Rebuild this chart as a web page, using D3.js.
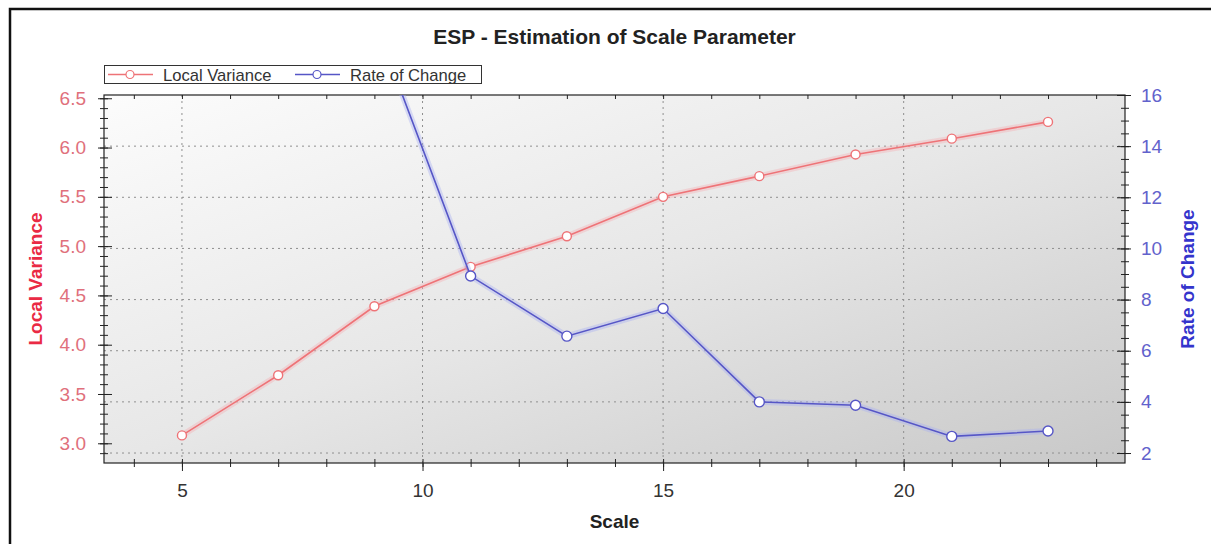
<!DOCTYPE html>
<html>
<head>
<meta charset="utf-8">
<script src="https://cdn.jsdelivr.net/npm/d3@7"></script>
<style>
  body { margin: 0; background: #fff; }
  svg { display: block; font-family: Arial, "Liberation Sans", sans-serif; }
</style>
</head>
<body>
<svg id="chart" width="1211" height="544"></svg>
<script>
// data
const scales = [5, 7, 9, 11, 13, 15, 17, 19, 21, 23];
const localVariance = [3.08, 3.69, 4.39, 4.79, 5.10, 5.50, 5.71, 5.93, 6.09, 6.26];
const rocScales = [9, 11, 13, 15, 17, 19, 21, 23];
const rateOfChange = [18.9, 8.92, 6.57, 7.65, 4.0, 3.87, 2.65, 2.86];

const xTicks = [5, 10, 15, 20];
const leftTicks = [3.0, 3.5, 4.0, 4.5, 5.0, 5.5, 6.0, 6.5];
const rightTicks = [2, 4, 6, 8, 10, 12, 14, 16];
const seriesNames = ["Local Variance", "Rate of Change"];

const redLine = "#ee7377", blueLine = "#5656c6";

const svg = d3.select("#chart");
const plot = { left: 104, right: 1125, top: 95, bottom: 463 };

const x = d3.scaleLinear().domain([3.38, 24.6]).range([plot.left, plot.right]);
const yL = d3.scaleLinear().domain([2.80, 6.533]).range([plot.bottom, plot.top]);
const yR = d3.scaleLinear().domain([1.61, 16]).range([plot.bottom, plot.top]);

// outer frame
svg.append("path")
  .attr("d", `M10,560 L10,9 L1230,9`)
  .attr("fill", "none")
  .attr("stroke", "#111")
  .attr("stroke-width", 2.5);

// background gradient
const defs = svg.append("defs");
const grad = defs.append("linearGradient").attr("id", "bg")
  .attr("x1", 0).attr("y1", 0).attr("x2", 1).attr("y2", 1);
grad.append("stop").attr("offset", 0).attr("stop-color", "#fcfcfc");
grad.append("stop").attr("offset", 0.5).attr("stop-color", "#e7e7e7");
grad.append("stop").attr("offset", 1).attr("stop-color", "#c8c8c8");
defs.append("clipPath").attr("id", "clip").append("rect")
  .attr("x", plot.left).attr("y", plot.top)
  .attr("width", plot.right - plot.left).attr("height", plot.bottom - plot.top);

svg.append("rect")
  .attr("x", plot.left).attr("y", plot.top)
  .attr("width", plot.right - plot.left).attr("height", plot.bottom - plot.top)
  .attr("fill", "url(#bg)");

// grid
const grid = svg.append("g").attr("stroke", "#8f8f8f").attr("stroke-dasharray", "2,4").attr("stroke-width", 1);
grid.selectAll(".gx").data(xTicks).enter().append("line")
  .attr("x1", d => x(d)).attr("x2", d => x(d))
  .attr("y1", plot.top).attr("y2", plot.bottom);
grid.selectAll(".gy").data(rightTicks.slice(0, -1)).enter().append("line")
  .attr("x1", plot.left).attr("x2", plot.right)
  .attr("y1", d => yR(d)).attr("y2", d => yR(d));

// axes helpers
function tickAxis(axisFn, scale, values, size, pos) {
  const g = svg.append("g").attr("transform", pos)
    .call(axisFn(scale).tickValues(values).tickSize(size).tickFormat(""));
  g.select(".domain").remove();
  g.selectAll("line").attr("stroke", "#222");
  return g;
}

const xMinor = d3.range(4, 25, 1);
const lMinor = d3.range(29, 66, 1).map(d => d / 10);
const rMinor = d3.range(2, 16.01, 0.5);

// bottom
tickAxis(d3.axisBottom, x, xMinor, 4, `translate(0,${plot.bottom})`);
tickAxis(d3.axisBottom, x, xMinor, -4, `translate(0,${plot.bottom})`);
tickAxis(d3.axisBottom, x, xTicks, 8, `translate(0,${plot.bottom})`);
// top
tickAxis(d3.axisBottom, x, xMinor, 4, `translate(0,${plot.top})`);
// left
tickAxis(d3.axisLeft, yL, lMinor, 4, `translate(${plot.left},0)`);
tickAxis(d3.axisLeft, yL, lMinor, -4, `translate(${plot.left},0)`);
tickAxis(d3.axisLeft, yL, leftTicks, 6, `translate(${plot.left},0)`);
tickAxis(d3.axisLeft, yL, leftTicks, -8, `translate(${plot.left},0)`);
// right
tickAxis(d3.axisRight, yR, rMinor, 4, `translate(${plot.right},0)`);
tickAxis(d3.axisRight, yR, rMinor, -4, `translate(${plot.right},0)`);
tickAxis(d3.axisRight, yR, rightTicks, 6, `translate(${plot.right},0)`);
tickAxis(d3.axisRight, yR, rightTicks, -8, `translate(${plot.right},0)`);

// frame
svg.append("rect")
  .attr("x", plot.left).attr("y", plot.top)
  .attr("width", plot.right - plot.left).attr("height", plot.bottom - plot.top)
  .attr("fill", "none").attr("stroke", "#222").attr("stroke-width", 1.2);

// tick labels
const xLab = svg.append("g").attr("transform", `translate(0,${plot.bottom})`)
  .call(d3.axisBottom(x).tickValues(xTicks).tickSize(0).tickPadding(21));
xLab.select(".domain").remove();
xLab.selectAll("text").style("font-size", "19px").attr("fill", "#333").attr("font-family", null);

const lLab = svg.append("g").attr("transform", `translate(${plot.left},0)`)
  .call(d3.axisLeft(yL).tickValues(leftTicks).tickSize(0).tickPadding(18).tickFormat(d3.format(".1f")));
lLab.select(".domain").remove();
lLab.selectAll("text").style("font-size", "19px").attr("fill", "#e0707c").attr("font-family", null);

const rLab = svg.append("g").attr("transform", `translate(${plot.right},0)`)
  .call(d3.axisRight(yR).tickValues(rightTicks).tickSize(0).tickPadding(16));
rLab.select(".domain").remove();
rLab.selectAll("text").style("font-size", "19px").attr("fill", "#6262cc").attr("font-family", null);

// axis titles
svg.append("text")
  .attr("x", (plot.left + plot.right) / 2).attr("y", 44)
  .attr("text-anchor", "middle").style("font-size", "21px").style("font-weight", "bold")
  .attr("fill", "#222").text("ESP - Estimation of Scale Parameter");

svg.append("text")
  .attr("x", (plot.left + plot.right) / 2).attr("y", 528)
  .attr("text-anchor", "middle").style("font-size", "19px").style("font-weight", "bold")
  .attr("fill", "#222").text("Scale");

svg.append("text")
  .attr("transform", `translate(42,${(plot.top + plot.bottom) / 2}) rotate(-90)`)
  .attr("text-anchor", "middle").style("font-size", "19px").style("font-weight", "bold")
  .attr("fill", "#ea2a44").text("Local Variance");

svg.append("text")
  .attr("transform", `translate(1194,${(plot.top + plot.bottom) / 2}) rotate(-90)`)
  .attr("text-anchor", "middle").style("font-size", "19px").style("font-weight", "bold")
  .attr("fill", "#3434cc").text("Rate of Change");

// series
const lv = scales.map((s, i) => ({ x: s, y: localVariance[i] }));
const roc = rocScales.map((s, i) => ({ x: s, y: rateOfChange[i] }));

const series = svg.append("g").attr("clip-path", "url(#clip)");

function drawSeries(data, yScale, color, glow, r) {
  const line = d3.line().x(d => x(d.x)).y(d => yScale(d.y));
  series.append("path").datum(data).attr("d", line)
    .attr("fill", "none").attr("stroke", glow).attr("stroke-width", 6).attr("stroke-opacity", 0.4);
  series.append("path").datum(data).attr("d", line)
    .attr("fill", "none").attr("stroke", color).attr("stroke-width", 1.6);
  series.selectAll(null).data(data).enter().append("circle")
    .attr("cx", d => x(d.x)).attr("cy", d => yScale(d.y)).attr("r", r)
    .attr("fill", "#fff").attr("stroke", color).attr("stroke-width", 1.4);
}

drawSeries(lv, yL, redLine, "#f6b0b4", 4.5);
drawSeries(roc, yR, blueLine, "#a8aef2", 5);

// legend
const legend = svg.append("g");
legend.append("rect")
  .attr("x", 104.5).attr("y", 65.5).attr("width", 377).attr("height", 18)
  .attr("fill", "#fff").attr("stroke", "#333").attr("stroke-width", 1);
const legendX = [108, 295];
const legendColors = [redLine, blueLine];
seriesNames.forEach((name, i) => {
  const lx = legendX[i];
  legend.append("line")
    .attr("x1", lx).attr("x2", lx + 45).attr("y1", 74.5).attr("y2", 74.5)
    .attr("stroke", legendColors[i]).attr("stroke-width", 1.4);
  legend.append("circle")
    .attr("cx", lx + 22).attr("cy", 74.5).attr("r", 4)
    .attr("fill", "#fff").attr("stroke", legendColors[i]).attr("stroke-width", 1.2);
  legend.append("text")
    .attr("x", lx + 55).attr("y", 80.5)
    .style("font-size", "16.6px").attr("fill", "#333").text(name);
});
</script>
</body>
</html>
